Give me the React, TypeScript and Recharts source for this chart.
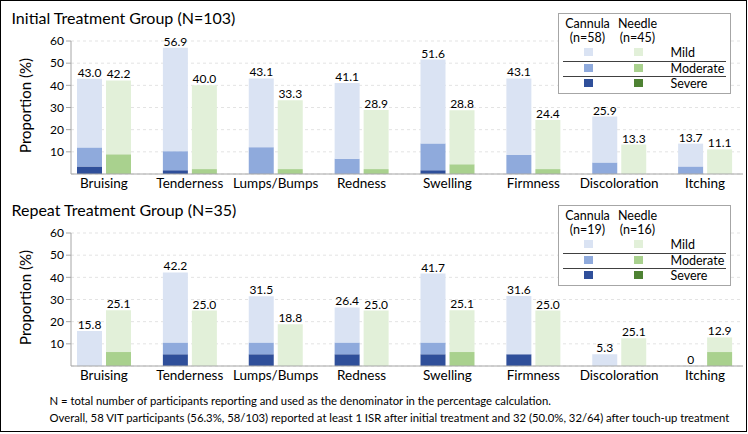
import React from "react";
import { BarChart, Bar, XAxis, YAxis, CartesianGrid, LabelList } from "recharts";

const categories = ["Bruising", "Tenderness", "Lumps/Bumps", "Redness", "Swelling", "Firmness", "Discoloration", "Itching"];

// initial treatment group, % of participants
const initCannulaSevere = [3.4, 1.7, 0, 0, 1.7, 0, 0, 0];
const initCannulaModerate = [8.6, 8.6, 12.1, 6.9, 12.1, 8.6, 5.2, 3.4];
const initCannulaMild = [31.0, 46.6, 31.0, 34.2, 37.8, 34.5, 20.7, 10.3];
const initCannulaLabels = ["43.0", "56.9", "43.1", "41.1", "51.6", "43.1", "25.9", "13.7"];
const initNeedleSevere = [0, 0, 0, 0, 0, 0, 0, 0];
const initNeedleModerate = [8.9, 2.2, 2.2, 2.2, 4.4, 2.2, 0, 0];
const initNeedleMild = [33.3, 37.8, 31.1, 26.7, 24.4, 22.2, 13.3, 11.1];
const initNeedleLabels = ["42.2", "40.0", "33.3", "28.9", "28.8", "24.4", "13.3", "11.1"];

// repeat treatment group
const repCannulaSevere = [0, 5.3, 5.3, 5.3, 5.3, 5.3, 0, 0];
const repCannulaModerate = [0, 5.3, 5.3, 5.3, 5.3, 0, 0, 0];
const repCannulaMild = [15.8, 31.6, 20.9, 15.8, 31.1, 26.3, 5.3, 0];
const repCannulaLabels = ["15.8", "42.2", "31.5", "26.4", "41.7", "31.6", "5.3", "0"];
const repNeedleSevere = [0, 0, 0, 0, 0, 0, 0, 0];
const repNeedleModerate = [6.3, 0, 0, 0, 6.3, 0, 0, 6.3];
const repNeedleMild = [18.8, 25.0, 18.8, 25.0, 18.8, 25.0, 12.5, 6.6];
const repNeedleLabels = ["25.1", "25.0", "18.8", "25.0", "25.1", "25.0", "25.1", "12.9"];

const yTicks = [10, 20, 30, 40, 50, 60];

const C_MILD = "#dae3f3";
const C_MOD = "#8faadc";
const C_SEV = "#2f4f9a";
const N_MILD = "#e2f0d9";
const N_MOD = "#a9d18e";
const N_SEV = "#4e8233";

const FONT = "Lato, 'Open Sans', sans-serif";

function buildRows(cs: number[], cm: number[], cl: number[], cLab: string[], ns: number[], nm: number[], nl: number[], nLab: string[]) {
  return categories.map((name, i) => ({
    name,
    cSev: cs[i], cMod: cm[i], cMild: cl[i], cLabel: cLab[i],
    nSev: ns[i], nMod: nm[i], nMild: nl[i], nLabel: nLab[i],
  }));
}

const initRows = buildRows(initCannulaSevere, initCannulaModerate, initCannulaMild, initCannulaLabels,
  initNeedleSevere, initNeedleModerate, initNeedleMild, initNeedleLabels);
const repRows = buildRows(repCannulaSevere, repCannulaModerate, repCannulaMild, repCannulaLabels,
  repNeedleSevere, repNeedleModerate, repNeedleMild, repNeedleLabels);

function YLabel(props: any) {
  const vb = props.viewBox || {};
  const cy = vb.y + vb.height / 2 - 2;
  return (
    <text x={31} y={cy} transform={`rotate(-90 31 ${cy})`} textAnchor="middle" fontSize={15} fill="#000">
      Proportion (%)
    </text>
  );
}

function LegendBox({ cn, nn }: { cn: number; nn: number }) {
  const sw = (left: number, top: number, color: string) => (
    <div style={{ position: "absolute", left, top, width: 9, height: 8, background: color }} />
  );
  const txt = (left: number, top: number, s: string, center = false) => (
    <div style={{ position: "absolute", left: center ? left - 30 : left, top, width: center ? 60 : undefined,
      textAlign: center ? "center" : "left", fontSize: 12.5, lineHeight: "15px", whiteSpace: "nowrap" }}>{s}</div>
  );
  return (
    <div style={{ position: "absolute", left: 558, top: 13, width: 173, height: 81, boxSizing: "border-box",
      border: "1px solid #a6a6a6", background: "#fff" }}>
      {txt(29, 2, "Cannula", true)}
      {txt(79, 2, "Needle", true)}
      {txt(29, 16, `(n=${cn})`, true)}
      {txt(79, 16, `(n=${nn})`, true)}
      {sw(25, 34, C_MILD)}
      {sw(75, 34, N_MILD)}
      {txt(112, 31, "Mild")}
      <div style={{ position: "absolute", left: 4, top: 47, width: 163, height: 1, background: "#404040" }} />
      {sw(25, 50, C_MOD)}
      {sw(75, 50, N_MOD)}
      {txt(112, 47, "Moderate")}
      <div style={{ position: "absolute", left: 4, top: 62, width: 163, height: 1, background: "#404040" }} />
      {sw(25, 65, C_SEV)}
      {sw(75, 65, N_SEV)}
      {txt(112, 62, "Severe")}
    </div>
  );
}

function Panel({ title, rows, cn, nn, top }: { title: string; rows: any[]; cn: number; nn: number; top: number }) {
  return (
    <div style={{ position: "absolute", left: 0, top, width: 748, height: 192 }}>
      <div style={{ position: "absolute", left: 12, top: 8, fontSize: 16, lineHeight: "20px", whiteSpace: "nowrap" }}>{title}</div>
      <BarChart width={748} height={192} data={rows} margin={{ top: 41, right: 5, bottom: 0, left: 31 }}
        barSize={25} barGap={4}>
        <CartesianGrid vertical={false} stroke="#e3e3e3" strokeDasharray="3 3" />
        <XAxis dataKey="name" interval={0} height={18} tickSize={0} tickMargin={4}
          axisLine={{ stroke: "#a6a6a6" }} tickLine={false} padding={{ left: -10, right: -5 }}
          tick={{ fontSize: 13.5, fill: "#000" }} />
        <YAxis width={40} domain={[0, 60]} ticks={yTicks} interval={0} tickSize={5} tickMargin={2}
          axisLine={{ stroke: "#a6a6a6" }} tickLine={{ stroke: "#a6a6a6" }}
          tick={{ fontSize: 12, fill: "#000" }} label={<YLabel />} />
        <Bar dataKey="cSev" stackId="c" fill={C_SEV} isAnimationActive={false} />
        <Bar dataKey="cMod" stackId="c" fill={C_MOD} isAnimationActive={false} />
        <Bar dataKey="cMild" stackId="c" fill={C_MILD} minPointSize={0.01} isAnimationActive={false}>
          <LabelList dataKey="cLabel" position="top" offset={2} fontSize={12} fill="#000" />
        </Bar>
        <Bar dataKey="nSev" stackId="n" fill={N_SEV} isAnimationActive={false} />
        <Bar dataKey="nMod" stackId="n" fill={N_MOD} isAnimationActive={false} />
        <Bar dataKey="nMild" stackId="n" fill={N_MILD} isAnimationActive={false}>
          <LabelList dataKey="nLabel" position="top" offset={2} fontSize={12} fill="#000" />
        </Bar>
      </BarChart>
      <LegendBox cn={cn} nn={nn} />
    </div>
  );
}

export default function App() {
  return (
    <div style={{ position: "absolute", left: 0, top: 0, width: 747, height: 432, boxSizing: "border-box",
      border: "1.5px solid #000", background: "#fff", fontFamily: FONT, color: "#000", overflow: "hidden" }}>
      <div style={{ position: "absolute", left: -1.5, top: -1.5 }}>
        <Panel title="Initial Treatment Group (N=103)" rows={initRows} cn={58} nn={45} top={0} />
        <Panel title="Repeat Treatment Group (N=35)" rows={repRows} cn={19} nn={16} top={192} />
        <div style={{ position: "absolute", left: 50, top: 392, fontSize: 11.3, lineHeight: "17px", whiteSpace: "nowrap" }}>
          <div>N = total number of participants reporting and used as the denominator in the percentage calculation.</div>
          <div>Overall, 58 VIT participants (56.3%, 58/103) reported at least 1 ISR after initial treatment and 32 (50.0%, 32/64) after touch-up treatment</div>
        </div>
      </div>
    </div>
  );
}
